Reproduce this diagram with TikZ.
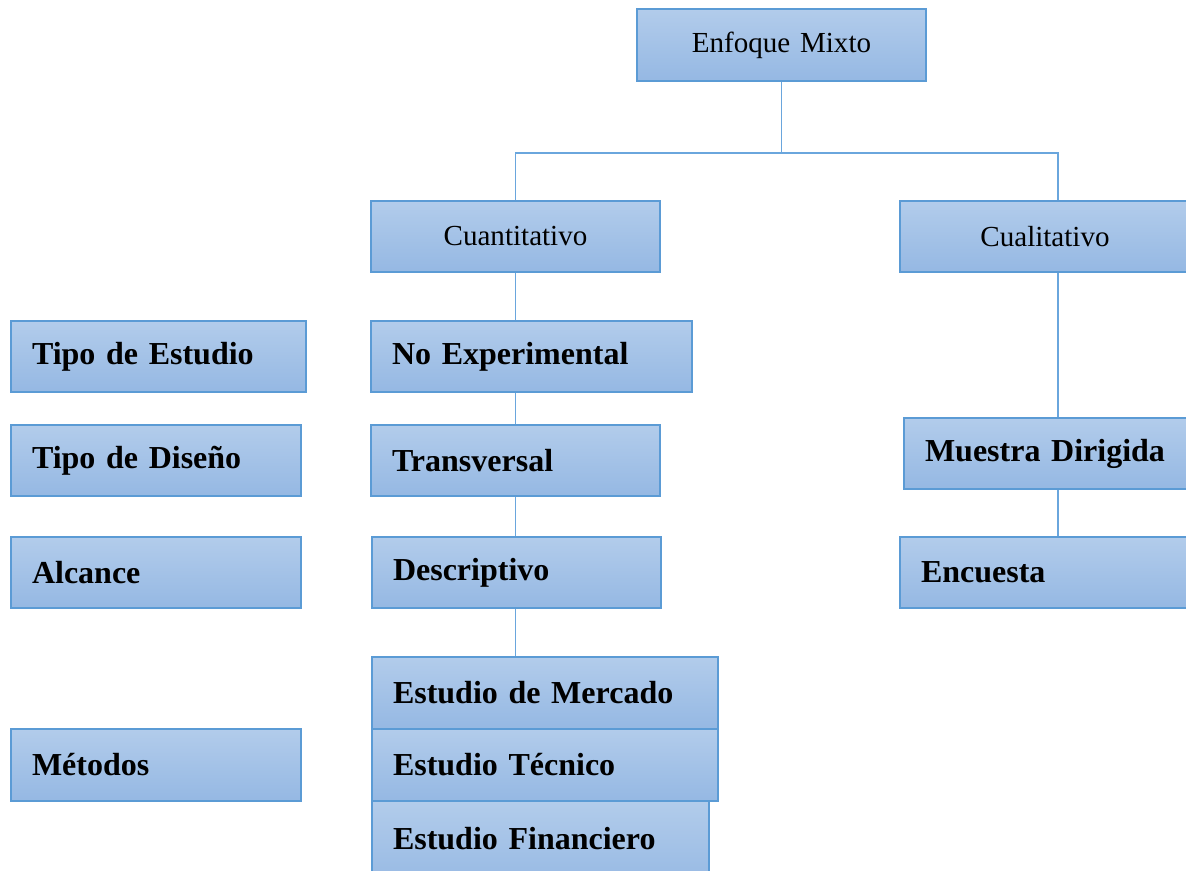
\documentclass[tikz,border=0pt]{standalone}
\usepackage{fontspec}
\setmainfont{Liberation Serif}
\definecolor{bdr}{HTML}{5B9BD5}
\definecolor{lnk}{HTML}{6AA6DD}
\definecolor{ftop}{HTML}{B2CCEB}
\definecolor{fbot}{HTML}{95B8E3}
\newcommand\mybox[7]{\node[#1, minimum width={(#5-#3)*0.75pt}, minimum height={(#6-#4)*0.75pt}, text width={(#5-#3-42)*0.75pt}] (#2) at ({(#3+#5)/2},{(#4+#6)/2}) {#7};}
\tikzset{
  base/.style={draw=bdr, line width=1.1pt, top color=ftop, bottom color=fbot, rectangle, inner xsep=15.75pt, inner ysep=0pt},
  cbox/.style={base, align=center, font=\fontsize{21.8}{26}\selectfont},
  lbox/.style={base, align=left, font=\fontsize{24}{28}\selectfont\bfseries},
  link/.style={draw=lnk, line width=1.3pt}
}
\begin{document}
\begin{tikzpicture}[x=0.75pt, y=-0.75pt]
\clip (0,0) rectangle (1186,871);
\useasboundingbox (0,0) rectangle (1186,871);
\fill[white] (0,0) rectangle (1186,871);
\coordinate (hy) at (0,153);
% nodes
\mybox{cbox}{enf}{637}{9}{926}{81}{Enfoque Mixto}
\mybox{cbox}{cuan}{371}{201}{660}{272}{Cuantitativo}
\mybox{cbox}{cual}{900}{201}{1190}{272}{Cualitativo}
\mybox{lbox}{noexp}{371}{321}{692}{392}{No Experimental}
\mybox{lbox}{trans}{371}{425}{660}{496}{Transversal}
\mybox{lbox}{desc}{372}{537}{661}{608}{Descriptivo}
\mybox{lbox}{merc}{372}{657}{718}{729}{Estudio de Mercado}
\mybox{lbox}{tecn}{372}{729}{718}{801}{Estudio Técnico}
\mybox{lbox}{fin}{372}{801}{709}{890}{\raisebox{10pt}{Estudio Financiero}}
\mybox{lbox}{tipoe}{11}{321}{306}{392}{Tipo de Estudio}
\mybox{lbox}{tipod}{11}{425}{301}{496}{Tipo de Diseño}
\mybox{lbox}{alc}{11}{537}{301}{608}{Alcance}
\mybox{lbox}{met}{11}{729}{301}{801}{Métodos}
\mybox{lbox}{mues}{904}{418}{1212}{489}{Muestra Dirigida}
\mybox{lbox}{enc}{900}{537}{1216}{608}{Encuesta}
% connectors
\draw[link] (enf.south) -- (enf.south |- hy) -| (cuan.north);
\draw[link] (enf.south |- hy) -| (mues.north |- cual.north);
\draw[link] (cuan.south) -- (noexp.north -| cuan.south);
\draw[link] (noexp.south -| cuan.south) -- (trans.north);
\draw[link] (trans.south) -- (desc.north -| trans.south);
\draw[link] (desc.south -| trans.south) -- (merc.north -| trans.south);
\draw[link] (mues.north |- cual.south) -- (mues.north);
\draw[link] (mues.south) -- (enc.north);
\end{tikzpicture}
\end{document}
